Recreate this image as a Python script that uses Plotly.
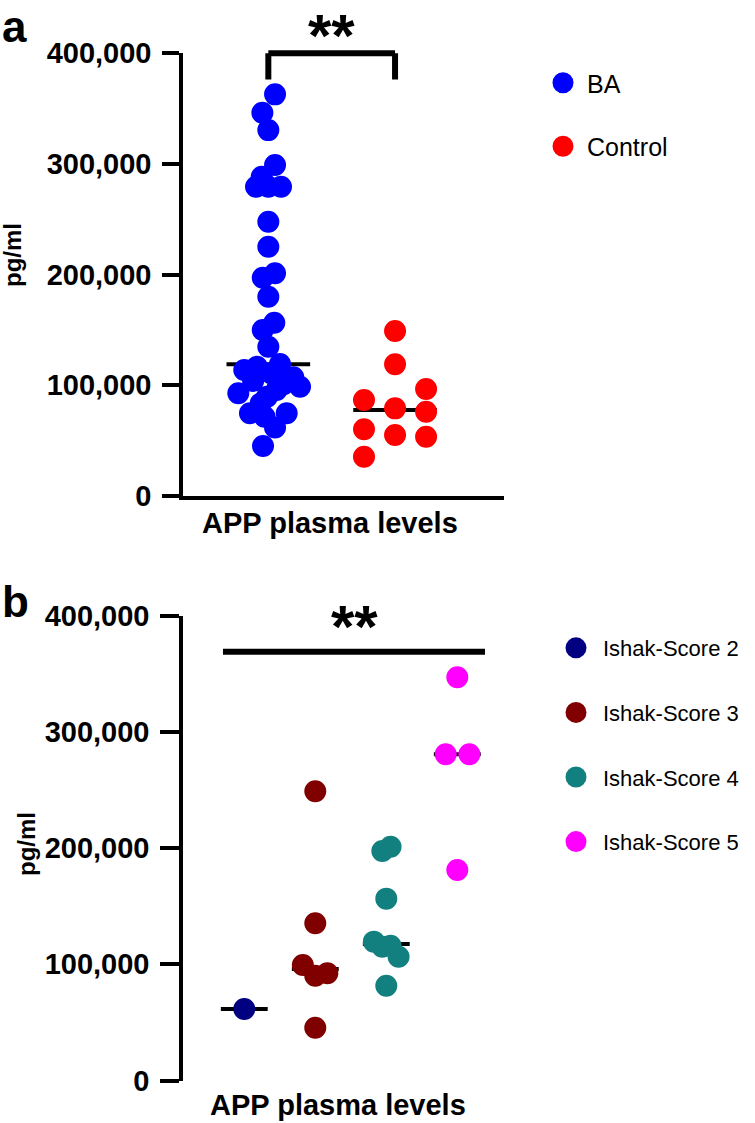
import plotly.graph_objects as go

# panel a: APP plasma levels, BA vs Control (pg/ml)
ba_values = [362900, 346300, 330600, 299000, 288400, 279400, 279400, 279400,
             247800, 225200, 197200, 201200, 180000, 156500, 150000, 134900,
             113800, 116800, 119200, 110800, 107200, 98700, 92800, 89700,
             95800, 74700, 74700, 83700, 71600, 62000, 45200, 104000, 101000]
ba_jitter = [0.053, -0.047, 0, 0.053, -0.052, -0.097, 0, 0.1,
             0, 0, -0.044, 0.053, 0, 0.047, -0.044, 0,
             -0.19, -0.09, 0.092, 0.025, 0.197, 0.25, -0.237, -0.01,
             0.065, -0.145, 0.145, -0.06, -0.03, 0.053, -0.042, -0.12, 0.12]
ctrl_values = [149000, 119000, 86700, 96700, 79200, 76200, 60300, 55100, 53600, 35500]
ctrl_jitter = [0, 0, -0.245, 0.245, 0, 0.245, -0.245, 0, 0.245, -0.245]
a_groups = ["BA", "Control"]
a_medians = [119000, 77700]
a_colors = ["#0000ff", "#ff0000"]

# panel b: BA split by Ishak score
b_groups = ["Ishak-Score 2", "Ishak-Score 3", "Ishak-Score 4", "Ishak-Score 5"]
b_values = [
    [61500],
    [248900, 135300, 99400, 90200, 92300, 45400],
    [197500, 201200, 156500, 119500, 115200, 116000, 106500, 81600],
    [347000, 280700, 280700, 181200],
]
b_jitter = [
    [0],
    [0, 0, -0.175, 0, 0.17, 0],
    [-0.056, 0.06, 0, -0.175, -0.056, 0.06, 0.173, 0],
    [0, -0.163, 0.17, 0],
]
b_medians = [61500, 96000, 117500, 280700]
b_colors = ["#000080", "#800000", "#138080", "#ff00ff"]

y_ticks = [0, 100000, 200000, 300000, 400000]

FONT = "Liberation Sans, Arial, Helvetica, sans-serif"
W, H = 755, 1123

fig = go.Figure()

a_data = [(ba_values, ba_jitter), (ctrl_values, ctrl_jitter)]
for i, (name, (vals, jit)) in enumerate(zip(a_groups, a_data)):
    fig.add_trace(go.Scatter(
        x=[i + 1 + j for j in jit], y=vals, mode="markers", name=name,
        marker=dict(size=17, color=a_colors[i], line=dict(width=5, color=a_colors[i])),
        xaxis="x", yaxis="y", legend="legend", legendgroup=name))

for i, name in enumerate(b_groups):
    fig.add_trace(go.Scatter(
        x=[i + 1 + j for j in b_jitter[i]], y=b_values[i], mode="markers", name=name,
        marker=dict(size=17, color=b_colors[i], line=dict(width=5, color=b_colors[i])),
        xaxis="x2", yaxis="y2", legend="legend2", legendgroup=name))

shapes = []
for i, m in enumerate(a_medians):
    shapes.append(dict(type="line", xref="x", yref="y", x0=i + 1 - 0.33, x1=i + 1.33,
                       y0=m, y1=m, line=dict(color="black", width=4), layer="below"))
for i, m in enumerate(b_medians):
    shapes.append(dict(type="line", xref="x2", yref="y2", x0=i + 1 - 0.33, x1=i + 1.33,
                       y0=m, y1=m, line=dict(color="black", width=4), layer="below"))

# significance bracket (a) and bar (b)
brk = dict(color="black", width=6)
shapes += [
    dict(type="line", xref="x", yref="y domain", x0=1, x1=2, y0=1.0, y1=1.0, line=brk),
    dict(type="line", xref="x", yref="y domain", x0=1, x1=1, y0=0.941, y1=1.0, line=brk),
    dict(type="line", xref="x", yref="y domain", x0=2, x1=2, y0=0.941, y1=1.0, line=brk),
    dict(type="line", xref="x2", yref="y2", x0=0.70, x1=4.39, y0=369000, y1=369000, line=brk),
]

bold = dict(family=FONT, color="black", weight="bold")


def note(text, x, y, size, xanchor="center", yanchor="middle", angle=0):
    # x, y in page pixels from the top-left corner
    return dict(text=text, xref="paper", yref="paper", x=x / W, y=1 - y / H,
                xanchor=xanchor, yanchor=yanchor, textangle=angle, showarrow=False,
                font=dict(bold, size=size))


annotations = [
    dict(text="**", xref="x", yref="y domain", x=1.5, y=1.1197, showarrow=False,
         xanchor="center", yanchor="top", font=dict(bold, size=60)),
    dict(text="**", xref="x2", yref="y2 domain", x=2.555, y=1.0523, showarrow=False,
         xanchor="center", yanchor="top", font=dict(bold, size=60)),
    note("a", 0, 0, 44, xanchor="left", yanchor="top"),
    note("b", 0, 601, 44, xanchor="left"),
    note("APP plasma levels", 330, 523, 29),
    note("APP plasma levels", 338, H, 29, yanchor="bottom"),
    note("pg/ml", 13, 255, 24, angle=-90),
    note("pg/ml", 26, 844, 24, angle=-90),
]

yax = dict(range=[0, 400000], tickvals=y_ticks, tickformat=",", showgrid=False,
           zeroline=False, showline=True, linecolor="black", linewidth=4,
           ticks="outside", ticklen=17, tickwidth=4, tickcolor="black", automargin=False,
           ticklabelstandoff=5, tickfont=dict(bold, size=29))
xax = dict(showgrid=False, zeroline=False, showline=True, linecolor="black", linewidth=4,
           showticklabels=False, ticks="", automargin=False)

fig.update_layout(
    width=W, height=H, margin=dict(l=0, r=0, t=0, b=0, autoexpand=False),
    paper_bgcolor="white", plot_bgcolor="white",
    xaxis=dict(xax, domain=[183.3 / W, 478.3 / W], range=[0.329, 2.657]),
    yaxis=dict(yax, domain=[1 - 496 / H, 1 - 53.3 / H]),
    xaxis2=dict(xax, domain=[196.7 / W, 504.3 / W], range=[0.330, 4.662]),
    yaxis2=dict(yax, domain=[1 - 1080.5 / H, 1 - 615.7 / H], ticklen=19),
    legend=dict(x=539 / W, y=1 - 60 / H, xanchor="left", yanchor="top",
                itemwidth=38, tracegroupgap=28, bgcolor="rgba(0,0,0,0)",
                font=dict(family=FONT, size=25, color="black")),
    legend2=dict(x=549 / W, y=1 - 627 / H, xanchor="left", yanchor="top",
                 itemwidth=44, tracegroupgap=33, bgcolor="rgba(0,0,0,0)",
                 font=dict(family=FONT, size=22, color="black")),
    shapes=shapes, annotations=annotations,
)

fig.write_html("out.html", config={"displayModeBar": False},
               post_script="document.body.style.margin='0';")
